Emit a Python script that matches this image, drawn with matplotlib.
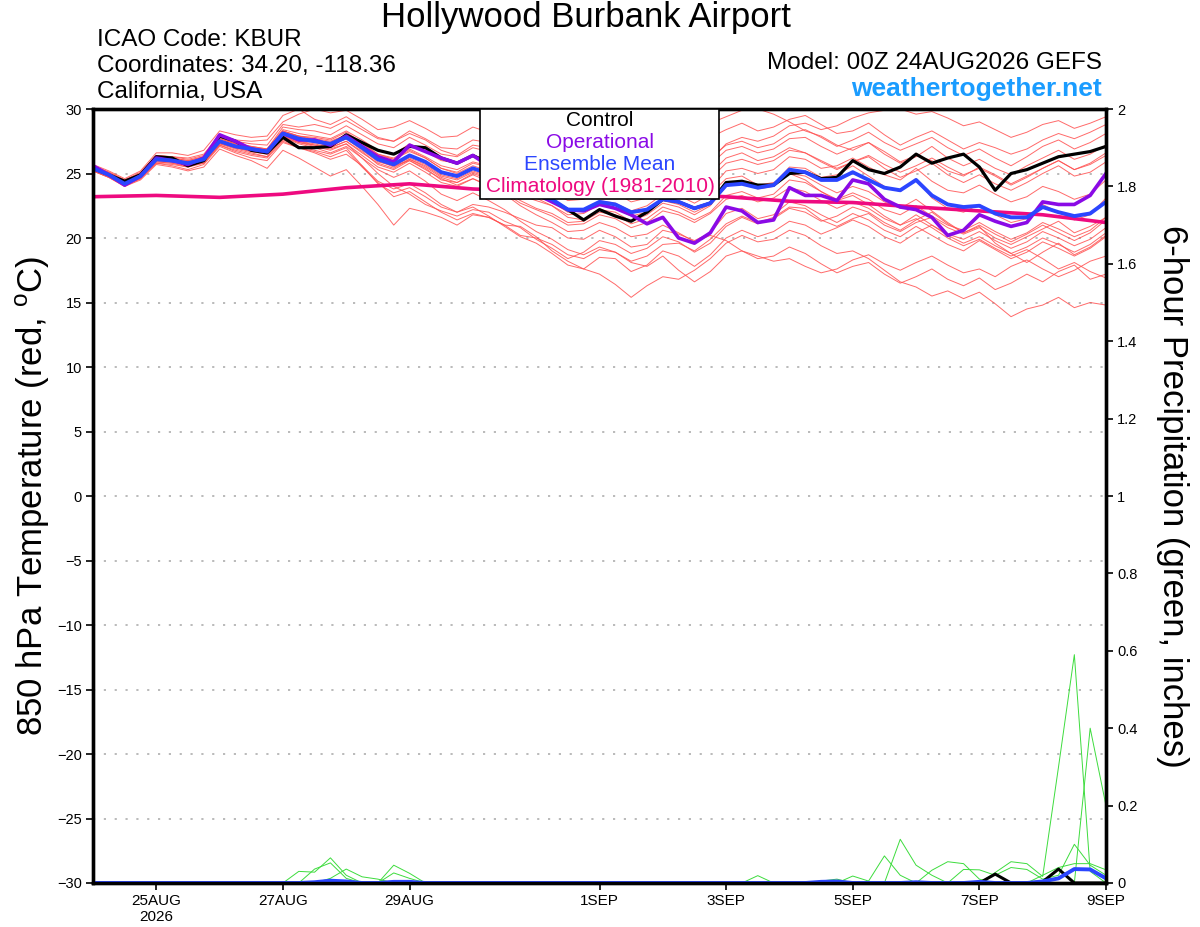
import matplotlib
matplotlib.use("Agg")
import matplotlib.pyplot as plt
from matplotlib.patches import Rectangle
from matplotlib.ticker import FuncFormatter

plt.rcParams['font.family'] = ['Liberation Sans', 'DejaVu Sans']

# ---------------------------------------------------------------- data ----
lead_hours = list(range(0, 385, 6))          # 24AUG 00Z .. 9SEP 00Z, 6-hourly
clim_hours = list(range(0, 385, 24))         # climatology given daily

tick_days = [1, 3, 5, 8, 10, 12, 14, 16]
tick_labels = ["25AUG\n2026", "27AUG", "29AUG", "1SEP", "3SEP", "5SEP", "7SEP", "9SEP"]

control_t = [25.4, 24.9, 24.4, 24.9, 26.3, 26.2, 25.6, 26.0, 27.9, 27.5, 26.8, 26.6, 27.8,
             27.0, 27.0, 27.1, 28.0, 27.4, 26.8, 26.5, 27.1, 27.0, 26.2, 25.8, 26.4,
             25.8, 25.2, 24.4, 23.5, 22.9, 22.2, 21.4, 22.2, 21.7, 21.3, 22.0, 23.0,
             22.8, 22.3, 22.7, 24.3, 24.4, 24.1, 24.1, 25.0, 25.1, 24.6, 24.7, 26.0,
             25.3, 25.0, 25.5, 26.5, 25.8, 26.2, 26.5, 25.5, 23.7, 25.0, 25.3, 25.8,
             26.3, 26.5, 26.7, 27.1]
operational_t = [25.6, 24.9, 24.1, 24.8, 26.2, 26.0, 25.7, 26.2, 28.0, 27.5, 26.9, 26.7, 28.1,
                 27.6, 27.6, 27.2, 27.9, 27.1, 26.3, 25.9, 27.2, 26.7, 26.2, 25.8, 26.4,
                 25.6, 24.9, 24.0, 23.4, 22.8, 22.2, 22.1, 22.6, 22.3, 21.8, 21.1, 21.6,
                 20.0, 19.6, 20.4, 22.4, 22.1, 21.2, 21.4, 23.9, 23.3, 23.3, 22.9, 24.5,
                 24.2, 23.0, 22.4, 22.2, 21.6, 20.2, 20.6, 21.8, 21.3, 20.9, 21.2, 22.8,
                 22.6, 22.6, 23.3, 25.0]
ens_mean_t = [25.4, 24.9, 24.2, 24.8, 26.1, 26.0, 25.8, 26.1, 27.5, 27.1, 26.9, 26.7, 28.1,
              27.7, 27.5, 27.3, 27.8, 27.0, 26.1, 25.7, 26.4, 25.9, 25.1, 24.8, 25.4,
              25.0, 24.5, 23.9, 23.4, 23.0, 22.2, 22.2, 22.8, 22.6, 22.0, 22.2, 23.0,
              22.8, 22.3, 22.7, 24.1, 24.2, 23.9, 24.1, 25.3, 25.1, 24.5, 24.5, 25.1,
              24.5, 23.9, 23.7, 24.5, 23.3, 22.6, 22.4, 22.5, 21.9, 21.6, 21.6, 22.4,
              22.0, 21.7, 21.9, 22.8]
climatology_t = [23.2, 23.3, 23.15, 23.4, 23.9, 24.2, 23.8, 23.6, 23.5, 23.4, 23.2,
                 22.85, 22.75, 22.4, 22.1, 21.8, 21.2]

# ensemble members, 850 hPa temperature
m01 = [25.6, 25.1, 24.5, 25.0, 26.4, 26.3, 26.2, 26.5, 28.0, 27.6, 27.5, 27.6,
       29.0, 29.6, 30.0, 29.7, 29.9, 29.2, 28.4, 28.6, 29.1, 28.5, 27.8, 27.9, 28.6,
       28.2, 27.6, 26.8, 26.5, 26.0, 25.2, 25.5, 26.3, 26.8, 26.2, 26.9, 27.6, 27.2, 27.0, 27.8, 28.4, 28.9, 28.3, 28.6, 29.2,
       29.5, 28.8, 28.1, 28.3, 28.9, 28.0, 27.2, 27.8, 28.3, 27.6, 26.9, 27.4, 27.0, 26.5, 26.9, 27.6, 28.1, 27.7, 28.2, 28.8]
m02 = [25.2, 24.7, 24.0, 24.6, 25.8, 25.6, 25.3, 25.7, 27.1, 26.6, 26.2, 26.0,
       27.4, 27.0, 26.6, 26.1, 26.5, 25.6, 24.4, 23.8, 24.2, 23.5, 22.6, 22.0, 22.4,
       21.7, 20.9, 20.1, 19.6, 18.8, 17.9, 17.6, 17.2, 16.4, 15.4, 16.3, 17.0, 16.8, 17.5, 18.4, 19.6, 20.2, 19.7, 19.9, 20.6,
       20.2, 19.4, 18.8, 19.0, 18.4, 17.5, 16.6, 16.2, 15.5, 15.9, 15.3, 15.8, 14.9, 13.9, 14.5, 14.8, 15.4, 14.6, 15.0, 14.8]
m03 = [25.3, 24.8, 24.1, 24.7, 25.9, 25.8, 25.5, 25.9, 27.3, 26.9, 26.6, 26.3,
       27.8, 27.3, 27.0, 26.6, 27.1, 26.2, 25.3, 24.7, 25.2, 24.4, 23.4, 22.9, 23.5,
       22.9, 22.2, 21.3, 20.5, 19.9, 19.1, 18.7, 19.3, 18.9, 18.1, 17.8, 18.6, 17.5, 16.6, 17.4, 18.6, 19.0, 18.4, 18.6, 19.3,
       18.8, 18.0, 17.3, 17.8, 18.1, 17.2, 16.5, 17.0, 17.6, 16.8, 16.3, 16.9, 16.0, 16.5, 17.2, 16.6, 17.4, 17.9, 16.8, 17.2]
m04 = [25.5, 25.0, 24.3, 24.9, 26.2, 26.2, 26.0, 26.3, 27.7, 27.3, 27.0, 26.9,
       28.3, 27.9, 27.6, 27.4, 28.0, 27.1, 26.2, 25.6, 26.0, 25.3, 24.6, 24.1, 24.6,
       24.0, 23.4, 22.5, 21.8, 21.2, 20.5, 20.6, 21.2, 20.8, 20.1, 20.3, 21.0, 20.4, 19.7, 20.2, 19.8, 19.0, 18.6, 18.2, 18.4,
       17.8, 17.3, 17.6, 18.3, 18.7, 18.0, 17.5, 18.1, 18.6, 17.9, 17.3, 17.6, 17.0, 17.8, 18.3, 17.6, 17.0, 17.5, 18.2, 18.6]
m05 = [25.5, 25.0, 24.4, 24.9, 26.3, 26.1, 25.9, 26.2, 27.8, 27.3, 27.1, 26.9,
       28.6, 28.4, 28.3, 28.0, 28.7, 28.0, 27.3, 27.0, 27.8, 27.2, 26.5, 26.3, 27.0,
       26.7, 26.1, 25.6, 25.2, 24.9, 24.3, 24.6, 25.4, 25.1, 24.6, 25.0, 25.8, 25.6, 25.1, 25.7, 26.8, 27.1, 26.6, 26.9, 27.7,
       27.8, 27.1, 26.5, 27.0, 27.4, 26.5, 25.8, 26.3, 27.1, 26.2, 25.6, 26.1, 25.4, 24.9, 25.6, 26.2, 26.8, 26.1, 26.5, 27.2]
m06 = [25.4, 24.9, 24.2, 24.8, 26.0, 26.0, 25.8, 26.0, 27.4, 27.0, 26.8, 26.6,
       28.0, 27.5, 27.3, 27.0, 27.5, 26.7, 25.7, 25.3, 26.0, 25.4, 24.5, 24.3, 25.0,
       24.6, 24.1, 23.3, 22.9, 22.5, 21.6, 21.4, 22.2, 22.0, 21.3, 21.8, 22.7, 22.4, 21.8, 22.5, 24.0, 24.4, 24.0, 24.2, 25.5,
       25.4, 24.7, 24.9, 25.6, 24.8, 24.0, 23.6, 24.6, 23.1, 22.3, 22.0, 22.6, 21.8, 21.2, 21.5, 22.6, 22.0, 21.4, 21.8, 23.1]
m07 = [25.3, 24.8, 24.1, 24.6, 25.9, 25.8, 25.6, 25.8, 27.2, 26.8, 26.5, 26.3,
       27.6, 27.1, 26.8, 26.5, 27.0, 25.6, 24.2, 23.5, 23.9, 23.2, 22.4, 22.0, 22.6,
       22.4, 22.0, 21.5, 21.0, 20.8, 20.0, 19.9, 20.6, 20.1, 19.3, 19.5, 20.6, 20.3, 19.8, 20.4, 21.9, 22.3, 21.5, 21.8, 22.8,
       22.5, 21.8, 21.2, 21.9, 21.4, 20.6, 20.1, 20.9, 20.2, 19.5, 19.0, 19.8, 19.1, 18.4, 18.9, 19.7, 19.2, 18.6, 19.2, 20.1]
m08 = [25.7, 25.2, 24.6, 25.2, 26.6, 26.6, 26.4, 26.8, 28.3, 28.0, 27.8, 27.9,
       29.5, 30.0, 29.2, 28.8, 29.4, 28.6, 27.8, 27.5, 28.1, 27.6, 26.8, 26.4, 27.2,
       27.0, 26.4, 25.8, 25.3, 24.6, 23.9, 24.1, 24.9, 24.8, 24.0, 24.3, 25.3, 25.0, 24.4, 25.0, 26.2, 26.6, 26.0, 26.3, 27.0,
       26.6, 25.9, 25.3, 25.9, 26.3, 25.4, 24.7, 25.2, 25.8, 24.9, 24.3, 24.9, 24.2, 23.7, 24.3, 25.0, 25.6, 24.8, 25.1, 25.9]
m09 = [25.2, 24.7, 24.0, 24.5, 25.7, 25.5, 25.2, 25.5, 26.9, 26.4, 26.0, 25.4,
       26.8, 26.2, 25.5, 24.8, 25.3, 24.0, 22.6, 21.0, 22.3, 22.0, 21.6, 21.0, 21.8,
       21.6, 21.0, 20.2, 20.0, 19.5, 18.7, 18.4, 19.1, 18.9, 18.2, 18.6, 19.5, 19.6, 19.0, 19.9, 21.1, 21.7, 21.2, 21.6, 22.4,
       22.3, 21.4, 20.9, 21.5, 21.9, 21.0, 20.5, 21.2, 21.6, 20.8, 20.3, 20.8, 20.0, 19.5, 20.1, 20.7, 21.3, 20.4, 20.9, 21.6]
m10 = [25.4, 24.9, 24.3, 24.9, 26.2, 26.1, 25.9, 26.2, 27.6, 27.2, 27.0, 26.8,
       28.2, 27.9, 27.7, 27.5, 28.0, 27.3, 26.5, 26.1, 26.7, 26.2, 25.4, 25.0, 25.6,
       25.2, 24.9, 24.4, 24.0, 23.8, 23.2, 23.6, 24.5, 25.1, 25.4, 26.3, 27.2, 27.6, 28.1, 28.9, 29.4, 29.9, 30.0, 29.6, 29.0,
       28.3, 27.9, 27.2, 26.8, 27.4, 26.7, 25.9, 26.4, 26.0, 25.2, 24.8, 25.5, 24.9, 24.2, 24.8, 25.4, 26.0, 25.3, 25.7, 26.4]
m11 = [25.5, 25.0, 24.3, 24.9, 26.2, 26.1, 25.9, 26.2, 27.6, 27.2, 27.0, 26.8,
       28.3, 27.9, 27.8, 27.6, 28.2, 27.4, 26.5, 26.2, 26.9, 26.3, 25.6, 25.3, 25.9,
       25.6, 25.2, 24.6, 24.1, 23.6, 22.9, 23.0, 23.7, 23.5, 22.8, 23.1, 24.0, 23.7, 23.2, 23.8, 25.2, 25.4, 25.0, 25.3, 26.3,
       26.1, 25.4, 25.6, 26.2, 25.5, 24.9, 24.5, 25.4, 24.4, 23.7, 23.5, 24.1, 23.4, 22.8, 23.2, 24.0, 23.6, 23.0, 23.4, 24.5]
m12 = [25.4, 24.9, 24.2, 24.8, 26.1, 25.9, 25.7, 26.0, 27.5, 27.0, 26.8, 26.6,
       28.0, 27.6, 27.4, 27.1, 27.7, 26.8, 25.9, 25.6, 26.2, 25.7, 24.9, 24.6, 25.2,
       24.8, 24.3, 23.6, 23.2, 22.8, 22.0, 22.1, 22.9, 22.7, 22.1, 22.5, 23.4, 23.3, 22.7, 23.4, 24.6, 24.8, 24.1, 24.3, 25.0,
       24.5, 23.6, 22.9, 23.3, 22.6, 21.7, 21.0, 21.5, 20.8, 20.0, 19.4, 19.9, 19.2, 18.6, 19.1, 18.4, 17.6, 18.1, 17.4, 16.9]
m13 = [25.3, 24.8, 24.2, 24.7, 26.0, 25.9, 25.7, 25.9, 27.3, 27.0, 26.7, 26.5,
       27.9, 27.4, 27.2, 26.9, 27.3, 26.2, 25.0, 24.0, 23.4, 22.6, 22.1, 21.7, 22.2,
       22.0, 21.3, 20.8, 19.9, 19.2, 18.4, 18.9, 19.8, 19.5, 18.8, 19.2, 20.1, 19.7, 18.9, 19.6, 20.9, 21.6, 21.1, 21.5, 22.3,
       22.0, 21.3, 21.7, 22.4, 22.0, 21.2, 20.6, 21.4, 22.0, 21.1, 20.4, 21.0, 20.3, 19.7, 20.3, 21.0, 20.4, 19.8, 20.4, 21.4]
m14 = [25.6, 25.1, 24.5, 25.1, 26.4, 26.3, 26.1, 26.4, 27.9, 27.5, 27.3, 27.2,
       28.8, 28.6, 28.8, 28.5, 29.1, 28.4, 27.7, 27.5, 28.3, 27.7, 27.0, 26.9, 27.6,
       27.4, 27.0, 26.4, 25.9, 25.5, 24.8, 25.0, 25.7, 25.4, 24.9, 25.3, 26.3, 26.0, 25.6, 26.2, 27.2, 27.5, 27.0, 27.3, 28.1,
       28.4, 27.8, 27.1, 27.6, 28.2, 27.4, 26.8, 27.3, 27.8, 27.0, 26.4, 26.9, 26.2, 25.6, 26.3, 27.1, 27.6, 26.9, 27.4, 28.1]
m15 = [25.4, 24.9, 24.1, 24.7, 26.0, 25.9, 25.7, 26.0, 27.4, 27.0, 26.8, 26.6,
       27.9, 27.5, 27.2, 27.0, 27.5, 26.6, 25.8, 25.4, 26.1, 25.5, 24.7, 24.3, 24.9,
       24.4, 23.7, 22.9, 22.3, 21.9, 21.2, 21.3, 22.0, 21.8, 21.1, 21.5, 22.4, 22.0, 21.4, 22.0, 23.3, 23.6, 23.1, 23.4, 24.5,
       24.3, 23.6, 23.0, 23.5, 23.0, 22.2, 21.8, 22.5, 21.7, 21.0, 20.6, 21.2, 20.5, 19.9, 20.4, 21.2, 20.7, 20.1, 20.6, 21.6]
m16 = [25.5, 25.0, 24.3, 24.8, 26.2, 26.0, 25.8, 26.1, 27.6, 27.1, 26.9, 26.7,
       28.1, 27.8, 27.6, 27.4, 28.0, 27.2, 26.4, 26.1, 26.8, 26.2, 25.4, 25.1, 25.8,
       25.5, 25.1, 24.6, 24.2, 23.9, 23.4, 23.6, 24.3, 24.1, 23.6, 24.0, 24.8, 24.5, 24.0, 24.6, 25.8, 26.1, 25.7, 26.0, 26.8,
       26.6, 26.0, 25.4, 25.9, 26.4, 25.7, 25.1, 25.6, 26.2, 25.5, 24.9, 25.4, 24.8, 24.1, 24.7, 25.4, 26.0, 25.3, 25.8, 26.6]
m17 = [25.3, 24.8, 24.2, 24.8, 26.1, 26.0, 25.8, 26.1, 27.5, 27.1, 26.9, 26.7,
       28.1, 27.7, 27.5, 27.2, 27.7, 26.9, 26.0, 25.5, 26.1, 25.6, 24.8, 24.5, 25.1,
       24.7, 24.2, 23.6, 23.1, 22.5, 21.8, 21.9, 22.6, 22.3, 21.7, 22.0, 22.9, 22.6, 22.0, 22.6, 24.0, 24.3, 23.8, 24.0, 25.0,
       24.8, 24.1, 23.5, 24.0, 23.6, 22.8, 22.3, 23.0, 22.1, 21.2, 20.4, 20.9, 19.6, 18.8, 18.1, 18.9, 19.6, 18.7, 19.3, 20.2]
m18 = [25.2, 24.7, 24.1, 24.6, 25.8, 25.7, 25.5, 25.8, 27.2, 26.7, 26.4, 26.2,
       27.5, 27.0, 26.7, 26.3, 26.8, 25.5, 24.3, 23.2, 23.6, 22.8, 22.0, 21.4, 21.9,
       21.6, 21.0, 20.9, 20.1, 19.0, 18.2, 17.6, 18.5, 18.4, 17.4, 17.9, 19.0, 18.6, 17.8, 18.7, 20.0, 20.6, 20.1, 20.5, 21.3,
       21.0, 20.3, 20.8, 21.4, 20.9, 20.1, 19.6, 20.4, 21.0, 20.2, 19.6, 20.1, 19.4, 18.8, 19.3, 20.0, 19.5, 18.9, 19.5, 20.4]
m19 = [25.5, 25.0, 24.4, 25.0, 26.3, 26.2, 26.0, 26.3, 27.7, 27.3, 27.1, 26.9,
       28.4, 28.1, 27.9, 27.7, 28.3, 27.6, 26.8, 26.5, 27.3, 26.7, 26.0, 25.8, 26.4,
       26.1, 25.7, 25.2, 24.8, 24.5, 24.0, 24.3, 25.0, 24.9, 24.4, 24.8, 25.8, 25.7, 25.3, 26.0, 27.3, 27.8, 27.5, 27.9, 28.7,
       28.9, 28.4, 28.7, 29.3, 29.7, 29.9, 30.0, 29.6, 29.8, 29.3, 28.7, 29.0, 28.4, 27.8, 28.2, 28.8, 29.1, 28.5, 28.9, 29.4]
m20 = [25.4, 24.9, 24.2, 24.7, 26.0, 25.9, 25.7, 26.0, 27.4, 27.0, 26.7, 26.5,
       27.8, 27.4, 27.1, 26.8, 27.3, 26.4, 25.5, 25.1, 25.8, 25.1, 24.3, 24.0, 24.6,
       24.1, 23.5, 22.7, 22.2, 21.7, 21.0, 21.1, 21.8, 21.5, 20.8, 21.2, 22.1, 21.8, 21.2, 21.9, 23.0, 23.3, 22.8, 23.1, 23.9,
       23.6, 22.9, 22.3, 22.8, 22.3, 21.5, 21.0, 21.8, 21.0, 20.3, 19.9, 20.5, 19.8, 19.2, 19.7, 20.5, 20.0, 19.4, 19.9, 20.8]
members_t = [m01, m02, m03, m04, m05, m06, m07, m08, m09, m10,
             m11, m12, m13, m14, m15, m16, m17, m18, m19, m20]

# 6-hour precipitation (inches); rows of ten = lead index 0-9, 10-19, ...
g01 = [0, 0, 0, 0, 0, 0, 0, 0, 0, 0,
       0, 0, 0, 0.030, 0.028, 0.065, 0.020, 0, 0, 0,
       0, 0, 0, 0, 0, 0, 0, 0, 0, 0,
       0, 0, 0, 0, 0, 0, 0, 0, 0, 0,
       0, 0, 0, 0, 0, 0, 0, 0, 0, 0,
       0, 0, 0, 0, 0, 0, 0, 0, 0, 0,
       0, 0, 0, 0, 0]
g02 = [0, 0, 0, 0, 0, 0, 0, 0, 0, 0,
       0, 0, 0, 0, 0.036, 0.052, 0.012, 0, 0, 0,
       0, 0, 0, 0, 0, 0, 0, 0, 0, 0,
       0, 0, 0, 0, 0, 0, 0, 0, 0, 0,
       0, 0, 0, 0, 0, 0, 0, 0, 0, 0,
       0, 0, 0, 0, 0, 0, 0, 0, 0, 0,
       0, 0, 0, 0, 0]
g03 = [0, 0, 0, 0, 0, 0, 0, 0, 0, 0,
       0, 0, 0, 0, 0, 0.012, 0.036, 0.016, 0.010, 0,
       0, 0, 0, 0, 0, 0, 0, 0, 0, 0,
       0, 0, 0, 0, 0, 0, 0, 0, 0, 0,
       0, 0, 0, 0, 0, 0, 0, 0, 0, 0,
       0, 0, 0, 0, 0, 0, 0, 0, 0, 0,
       0, 0, 0, 0, 0]
g04 = [0, 0, 0, 0, 0, 0, 0, 0, 0, 0,
       0, 0, 0, 0, 0, 0, 0, 0, 0, 0.046,
       0.025, 0, 0, 0, 0, 0, 0, 0, 0, 0,
       0, 0, 0, 0, 0, 0, 0, 0, 0, 0,
       0, 0, 0.019, 0, 0, 0, 0, 0, 0, 0,
       0, 0, 0, 0, 0, 0, 0, 0, 0, 0,
       0, 0, 0, 0, 0]
g05 = [0, 0, 0, 0, 0, 0, 0, 0, 0, 0,
       0, 0, 0, 0, 0, 0, 0, 0, 0, 0.026,
       0.012, 0, 0, 0, 0, 0, 0, 0, 0, 0,
       0, 0, 0, 0, 0, 0, 0, 0, 0, 0,
       0, 0, 0, 0, 0, 0, 0, 0, 0.018, 0.005,
       0.070, 0.020, 0, 0.033, 0.055, 0.050, 0.010, 0, 0, 0,
       0, 0, 0, 0, 0]
g06 = [0, 0, 0, 0, 0, 0, 0, 0, 0, 0,
       0, 0, 0, 0, 0, 0, 0, 0, 0, 0,
       0, 0, 0, 0, 0, 0, 0, 0, 0, 0,
       0, 0, 0, 0, 0, 0, 0, 0, 0, 0,
       0, 0, 0, 0, 0, 0, 0, 0, 0, 0,
       0, 0.113, 0.046, 0.020, 0, 0, 0, 0.027, 0.055, 0.050,
       0.017, 0.300, 0.590, 0.030, 0]
g07 = [0, 0, 0, 0, 0, 0, 0, 0, 0, 0,
       0, 0, 0, 0, 0, 0, 0, 0, 0, 0,
       0, 0, 0, 0, 0, 0, 0, 0, 0, 0,
       0, 0, 0, 0, 0, 0, 0, 0, 0, 0,
       0, 0, 0, 0, 0, 0, 0, 0, 0, 0,
       0, 0, 0, 0, 0, 0, 0, 0, 0, 0,
       0, 0, 0, 0.400, 0.200]
g08 = [0, 0, 0, 0, 0, 0, 0, 0, 0, 0,
       0, 0, 0, 0, 0, 0, 0, 0, 0, 0,
       0, 0, 0, 0, 0, 0, 0, 0, 0, 0,
       0, 0, 0, 0, 0, 0, 0, 0, 0, 0,
       0, 0, 0, 0, 0, 0, 0, 0, 0, 0,
       0, 0, 0, 0, 0, 0.035, 0.034, 0.020, 0.040, 0.035,
       0.010, 0.020, 0.100, 0.046, 0.020]
g09 = [0, 0, 0, 0, 0, 0, 0, 0, 0, 0,
       0, 0, 0, 0, 0, 0, 0, 0, 0, 0,
       0, 0, 0, 0, 0, 0, 0, 0, 0, 0,
       0, 0, 0, 0, 0, 0, 0, 0, 0, 0,
       0, 0, 0, 0, 0, 0, 0.005, 0.010, 0, 0,
       0, 0, 0, 0, 0, 0, 0, 0, 0, 0,
       0.020, 0.040, 0.050, 0.050, 0.034]
members_p = [g01, g02, g03, g04, g05, g06, g07, g08, g09]

control_p = [0, 0, 0, 0, 0, 0, 0, 0, 0, 0,
             0, 0, 0, 0, 0, 0.004, 0, 0, 0, 0,
             0, 0, 0, 0, 0, 0, 0, 0, 0, 0,
             0, 0, 0, 0, 0, 0, 0, 0, 0, 0,
             0, 0, 0, 0, 0, 0, 0, 0, 0, 0,
             0, 0, 0, 0, 0, 0, 0, 0.023, 0, 0,
             0.003, 0.036, 0, 0, 0]
ens_mean_p = [0, 0, 0, 0, 0, 0, 0, 0, 0, 0,
              0, 0, 0, 0, 0.002, 0.006, 0.004, 0, 0, 0.003,
              0.003, 0, 0, 0, 0, 0, 0, 0, 0, 0,
              0, 0, 0, 0, 0, 0, 0, 0, 0, 0,
              0, 0, 0, 0, 0, 0, 0.003, 0.004, 0, 0,
              0, 0, 0.002, 0, 0, 0, 0.003, 0, 0, 0,
              0.004, 0.012, 0.036, 0.035, 0.012]

# ---------------------------------------------------------------- plot ----
RED = "#ff5050"
PURPLE = "#8a0ae6"
BLUE = "#2b46ff"
PINK = "#ee0a80"
GREEN = "#3ddc3d"

days = [h / 24 for h in lead_hours]
clim_days = [h / 24 for h in clim_hours]

fig = plt.figure(figsize=(12, 9.27), dpi=100)
W, H = 1200, 927
ax = fig.add_axes([93 / W, 1 - 883 / H, (1106 - 93) / W, (883 - 109) / H])
ax2 = ax.twinx()

for m in members_t:
    ax.plot(days, m, color=RED, lw=0.7, alpha=0.85, zorder=2)
ax.plot(clim_days, climatology_t, color=PINK, lw=2.6, zorder=3)
ax.plot(days, control_t, color="black", lw=2.3, zorder=4)
ax.plot(days, operational_t, color=PURPLE, lw=2.6, zorder=5)
ax.plot(days, ens_mean_t, color=BLUE, lw=2.8, zorder=6)

for g in members_p:
    ax2.plot(days, g, color=GREEN, lw=0.7, zorder=2)
ax2.plot(days, control_p, color="black", lw=2.2, zorder=3)
ax2.plot(days, ens_mean_p, color=BLUE, lw=2.8, zorder=4)

ax.set_xlim(0, 16)
ax.set_ylim(-30, 30)
ax2.set_ylim(0, 2)
ax.set_yticks(range(-30, 31, 5))
ax2.set_yticks([0, 0.2, 0.4, 0.6, 0.8, 1, 1.2, 1.4, 1.6, 1.8, 2])
ax2.yaxis.set_major_formatter(FuncFormatter(lambda v, p: f"{v:g}"))
ax.set_xticks(tick_days)
ax.set_xticklabels(tick_labels)

for y in range(-25, 30, 5):
    ax.axhline(y, color="#b4b4b4", lw=1.3, ls=(0, (1.2, 4.8)), zorder=1)

for a in (ax, ax2):
    for s in a.spines.values():
        s.set_linewidth(2.4)
        s.set_zorder(10)
ax.tick_params(axis="y", length=5, width=1.2, labelsize=10.5, pad=3)
ax.tick_params(axis="x", length=5, width=1.2, labelsize=11, pad=3)
ax2.tick_params(axis="y", length=5, width=1.2, labelsize=10.5, pad=3)

# legend box
fig.add_artist(Rectangle((480 / W, 1 - 199 / H), (719 - 480) / W, 90 / H,
                         transform=fig.transFigure, facecolor="white",
                         edgecolor="black", lw=1.2, zorder=10))
for txt, col, ypx in [("Control", "black", 121), ("Operational", PURPLE, 142),
                      ("Ensemble Mean", BLUE, 164), ("Climatology (1981-2010)", PINK, 186)]:
    fig.text(600 / W, 1 - ypx / H, txt, color=col, fontsize=15,
             ha="center", va="center", zorder=11)

# header
fig.text(586 / W, 1 - 18 / H, "Hollywood Burbank Airport", fontsize=25,
         ha="center", va="center")
fig.text(97 / W, 1 - 40 / H, "ICAO Code: KBUR", fontsize=17.5, ha="left", va="center")
fig.text(97 / W, 1 - 66 / H, "Coordinates: 34.20, -118.36", fontsize=17.5, ha="left", va="center")
fig.text(97 / W, 1 - 92 / H, "California, USA", fontsize=17.5, ha="left", va="center")
fig.text(1102 / W, 1 - 63 / H, "Model: 00Z 24AUG2026 GEFS", fontsize=17.5, ha="right", va="center")
fig.text(1102 / W, 1 - 89 / H, "weathertogether.net", fontsize=19, fontweight="bold",
         color="#1a9cff", ha="right", va="center")

fig.text(33 / W, 1 - 496 / H, r"850 hPa Temperature (red, $^{\mathregular{o}}$C)",
         fontsize=25, rotation=90, ha="center", va="center")
fig.text(1172 / W, 1 - 496 / H, "6-hour Precipitation (green, inches)",
         fontsize=25, rotation=270, ha="center", va="center")

fig.savefig("out.png", dpi=100)
